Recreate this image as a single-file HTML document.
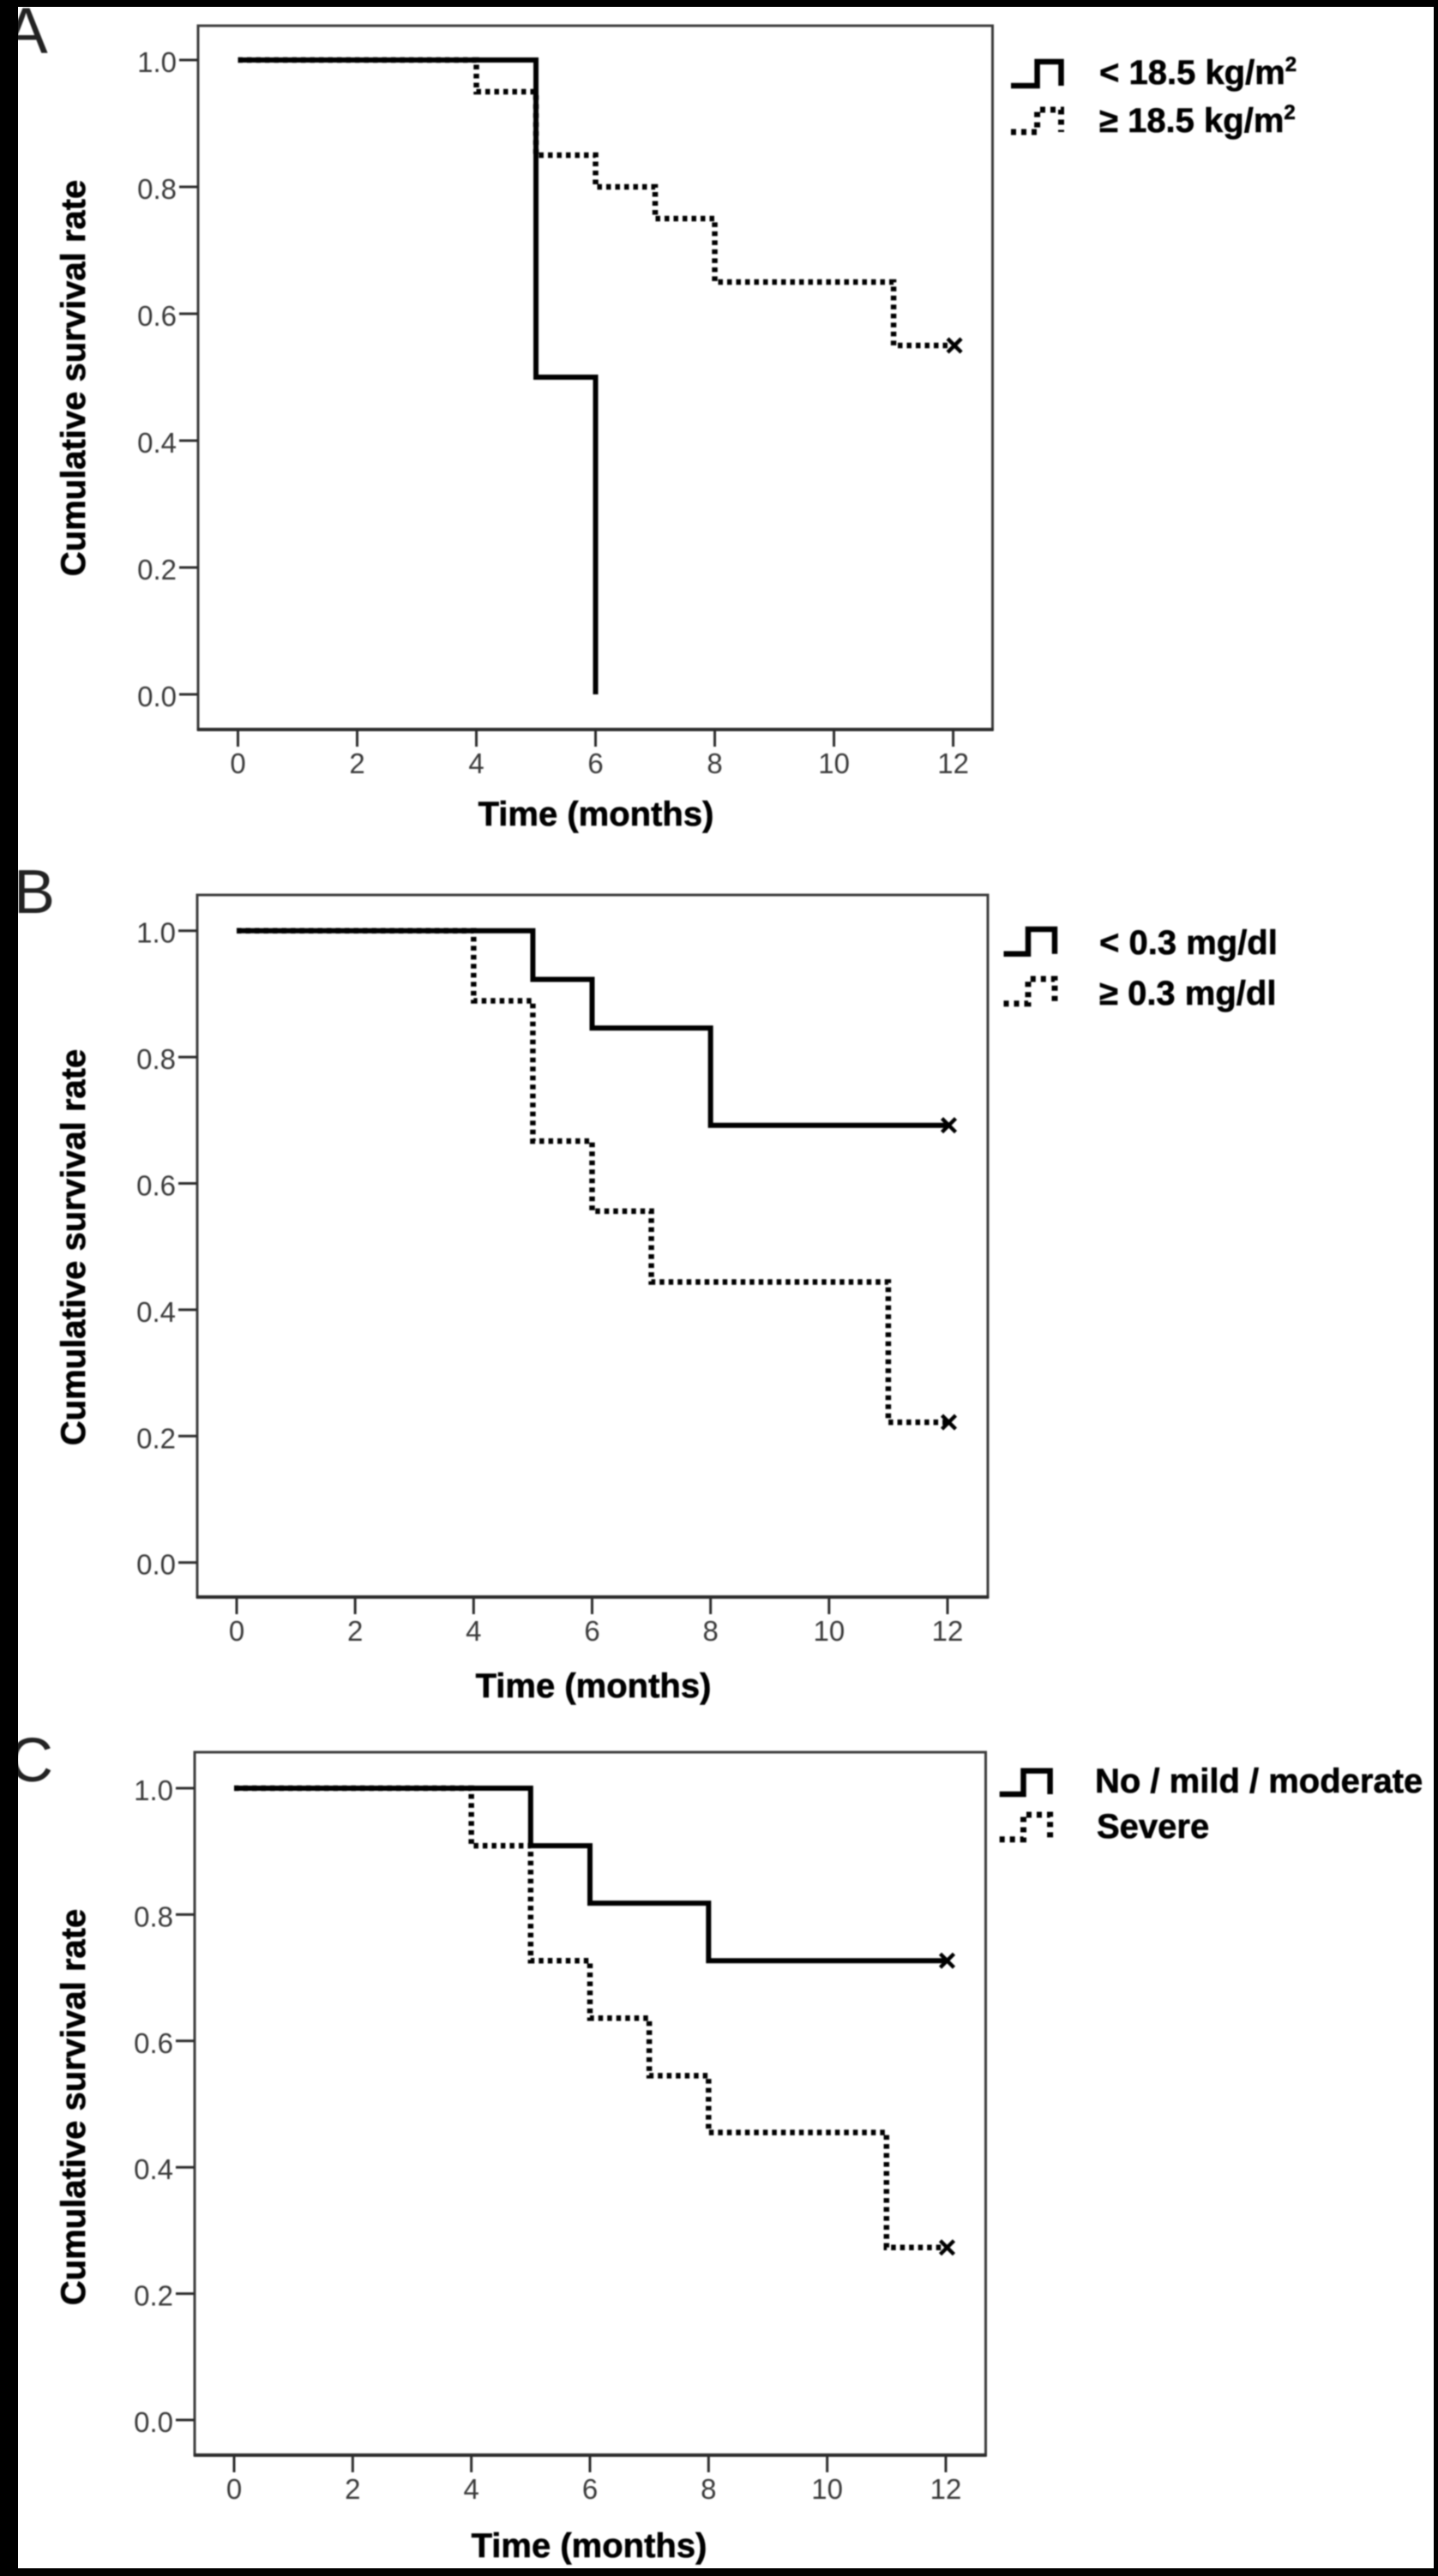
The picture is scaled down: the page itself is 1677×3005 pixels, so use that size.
<!DOCTYPE html>
<html lang="en">
<head>
<meta charset="utf-8">
<title>Kaplan-Meier survival curves</title>
<style>
html,body{margin:0;padding:0;background:#fff;width:1677px;height:3005px;overflow:hidden}
svg{display:block;position:absolute;left:0;top:0}
text{font-family:"Liberation Sans",sans-serif}
.tick{font-size:33px;fill:#3a3a3a}
.title{font-size:40px;font-weight:bold;fill:#000;stroke:#000;stroke-width:0.6px}
.leg{font-size:40px;font-weight:bold;fill:#000;stroke:#000;stroke-width:0.6px}
.letter{font-size:72px;fill:#222}
#chart{filter:blur(0.7px)}
</style>
</head>
<body>
<svg id="chart" width="1677" height="3005" viewBox="0 0 1677 3005">
  <rect x="0" y="0" width="1677" height="3005" fill="#fff"/>

  <g id="panel-a">
    <text class="letter" x="5" y="62" style="font-size:76px">A</text>
    <text class="title" transform="translate(99 441) rotate(-90)" text-anchor="middle">Cumulative survival rate</text>
    <text class="title" x="695" y="963" text-anchor="middle">Time (months)</text>
    <g>
      <path d="M1179 100H1209.6V72H1237.5V100" fill="none" stroke="#000" stroke-width="6.5"/>
      <text class="leg" x="1282" y="98">&lt; 18.5 kg/m<tspan font-size="24" dy="-15">2</tspan></text>
      <path d="M1179 154H1209.6V128H1237.5V154" fill="none" stroke="#000" stroke-width="7" stroke-dasharray="6 6"/>
      <text class="leg" x="1282" y="154">≥ 18.5 kg/m<tspan font-size="24" dy="-15">2</tspan></text>
    </g>
  </g>

  <g id="panel-b">
    <text class="letter" x="16" y="1065">B</text>
    <text class="title" transform="translate(99 1455) rotate(-90)" text-anchor="middle">Cumulative survival rate</text>
    <text class="title" x="692" y="1980" text-anchor="middle">Time (months)</text>
    <g>
      <path d="M1170.5 1112.7H1199V1084H1230V1112.7" fill="none" stroke="#000" stroke-width="6.5"/>
      <text class="leg" x="1282" y="1113">&lt; 0.3 mg/dl</text>
      <path d="M1170.5 1170.7H1199V1142H1230V1170.7" fill="none" stroke="#000" stroke-width="7" stroke-dasharray="6 6"/>
      <text class="leg" x="1282" y="1172">≥ 0.3 mg/dl</text>
    </g>
  </g>

  <g id="panel-c">
    <text class="letter" x="10" y="2078">C</text>
    <text class="title" transform="translate(99 2458) rotate(-90)" text-anchor="middle">Cumulative survival rate</text>
    <text class="title" x="687" y="2983" text-anchor="middle">Time (months)</text>
    <g>
      <path d="M1165.7 2093H1193.5V2065.7H1224.6V2093" fill="none" stroke="#000" stroke-width="6.5"/>
      <text class="leg" x="1277" y="2091">No / mild / moderate</text>
      <path d="M1165.7 2145.7H1193.5V2117H1224.6V2145.7" fill="none" stroke="#000" stroke-width="7" stroke-dasharray="6 6"/>
      <text class="leg" x="1279" y="2144">Severe</text>
    </g>
  </g>
</svg>

<svg width="1677" height="3005" viewBox="0 0 1677 3005" style="pointer-events:none">
  <rect x="0" y="0" width="1677" height="8" fill="#000"/>
  <rect x="0" y="0" width="21" height="3005" fill="#000"/>
  <rect x="1672" y="0" width="5" height="3005" fill="#000"/>
  <rect x="0" y="2996" width="1677" height="9" fill="#000"/>
</svg>

<script>
// Shared axis ticks
const xTickValues = [0, 2, 4, 6, 8, 10, 12];
const xTickLabels = ["0", "2", "4", "6", "8", "10", "12"];
const yTickValues = [0, 0.2, 0.4, 0.6, 0.8, 1];
const yTickLabels = ["0.0", "0.2", "0.4", "0.6", "0.8", "1.0"];

// Panel A: BMI
const aSolidTimes = [0, 5, 6];
const aSolidSurvival = [1, 0.5, 0];
const aDottedTimes = [0, 4, 5, 6, 7, 8, 11, 12];
const aDottedSurvival = [1, 0.95, 0.85, 0.8, 0.75, 0.65, 0.55, 0.55];

// Panel B: CRP
const bSolidTimes = [0, 5, 6, 8, 12];
const bSolidSurvival = [1, 0.923, 0.846, 0.692, 0.692];
const bDottedTimes = [0, 4, 5, 6, 7, 11, 12];
const bDottedSurvival = [1, 0.889, 0.667, 0.556, 0.444, 0.222, 0.222];

// Panel C: severity
const cSolidTimes = [0, 5, 6, 8, 12];
const cSolidSurvival = [1, 0.909, 0.818, 0.727, 0.727];
const cDottedTimes = [0, 4, 5, 6, 7, 8, 11, 12];
const cDottedSurvival = [1, 0.909, 0.727, 0.636, 0.545, 0.455, 0.273, 0.273];

const SVG_NS = "http://www.w3.org/2000/svg";

function make(parent, tag, attrs) {
  const el = document.createElementNS(SVG_NS, tag);
  for (const k in attrs) el.setAttribute(k, attrs[k]);
  parent.appendChild(el);
  return el;
}

function drawPanel(cfg) {
  const root = document.getElementById(cfg.id);
  const key = cfg.key;
  const xScale = t => cfg.x0 + (cfg.x12 - cfg.x0) * t / 12;
  const yScale = s => cfg.y0 + (cfg.y1 - cfg.y0) * s;

  // axis frame
  const frame = make(root, "rect", {x: cfg.left, y: cfg.top, width: cfg.right - cfg.left, height: cfg.bottom - cfg.top, fill: "none", stroke: "#3c3c3c", "stroke-width": 3});
  
  
  const base = make(root, "line", {x1: cfg.left - 1, x2: cfg.right + 1, y1: cfg.bottom, y2: cfg.bottom, stroke: "#2c2c2c", "stroke-width": 4});
  
  

  // x ticks
  xTickValues.forEach((v, i) => {
    const px = xScale(v);
    const tick = make(root, "line", {x1: px, x2: px, y1: cfg.bottom, y2: cfg.bottom + 20, stroke: "#2c2c2c", "stroke-width": 3});
    
    
    const lab = make(root, "text", {x: px, y: cfg.bottom + 51, "text-anchor": "middle", class: "tick"});
    lab.textContent = xTickLabels[i];
    
    
  });

  // y ticks
  yTickValues.forEach((v, i) => {
    const py = yScale(v);
    const tick = make(root, "line", {x1: cfg.left - 22, x2: cfg.left, y1: py, y2: py, stroke: "#2c2c2c", "stroke-width": 3});
    
    
    const lab = make(root, "text", {x: cfg.left - 25, y: py + 14, "text-anchor": "end", class: "tick"});
    lab.textContent = yTickLabels[i];
    
    
  });

  function stepPath(times, surv) {
    let d = "M" + xScale(times[0]) + " " + yScale(surv[0]);
    for (let i = 1; i < times.length; i++) {
      const px = xScale(times[i]);
      d += "L" + px + " " + yScale(surv[i - 1]) + "L" + px + " " + yScale(surv[i]);
    }
    return d;
  }

  function drawSeries(name, times, surv, dotted, censored) {
    const attrs = {d: stepPath(times, surv), fill: "none", stroke: "#000", "stroke-width": dotted ? 6.5 : 6};
    if (dotted) attrs["stroke-dasharray"] = "5.5 5";
    const line = make(root, "path", attrs);
    
    
    if (censored) {
      const cx = xScale(times[times.length - 1]) + 1.5;
      const cy = yScale(surv[surv.length - 1]);
      const mark = make(root, "path", {d: "M" + (cx - 8) + " " + (cy - 8) + "L" + (cx + 8) + " " + (cy + 8) + "M" + (cx + 8) + " " + (cy - 8) + "L" + (cx - 8) + " " + (cy + 8), fill: "none", stroke: "#000", "stroke-width": 4.5});
      
      
    }
  }

  drawSeries("solid", cfg.solidT, cfg.solidS, false, cfg.solidCensored);
  drawSeries("dotted", cfg.dottedT, cfg.dottedS, true, true);
}

drawPanel({id: "panel-a", key: "a", left: 231, right: 1157.5, top: 30, bottom: 851, x0: 277.5, x12: 1111.6, y1: 70, y0: 810,
  solidT: aSolidTimes, solidS: aSolidSurvival, solidCensored: false, dottedT: aDottedTimes, dottedS: aDottedSurvival});
drawPanel({id: "panel-b", key: "b", left: 230, right: 1152, top: 1044, bottom: 1863, x0: 276, x12: 1105, y1: 1085.7, y0: 1822.7,
  solidT: bSolidTimes, solidS: bSolidSurvival, solidCensored: true, dottedT: bDottedTimes, dottedS: bDottedSurvival});
drawPanel({id: "panel-c", key: "c", left: 227, right: 1149.5, top: 2044, bottom: 2864, x0: 273, x12: 1103, y1: 2086, y0: 2823,
  solidT: cSolidTimes, solidS: cSolidSurvival, solidCensored: true, dottedT: cDottedTimes, dottedS: cDottedSurvival});
</script>
</body>
</html>
